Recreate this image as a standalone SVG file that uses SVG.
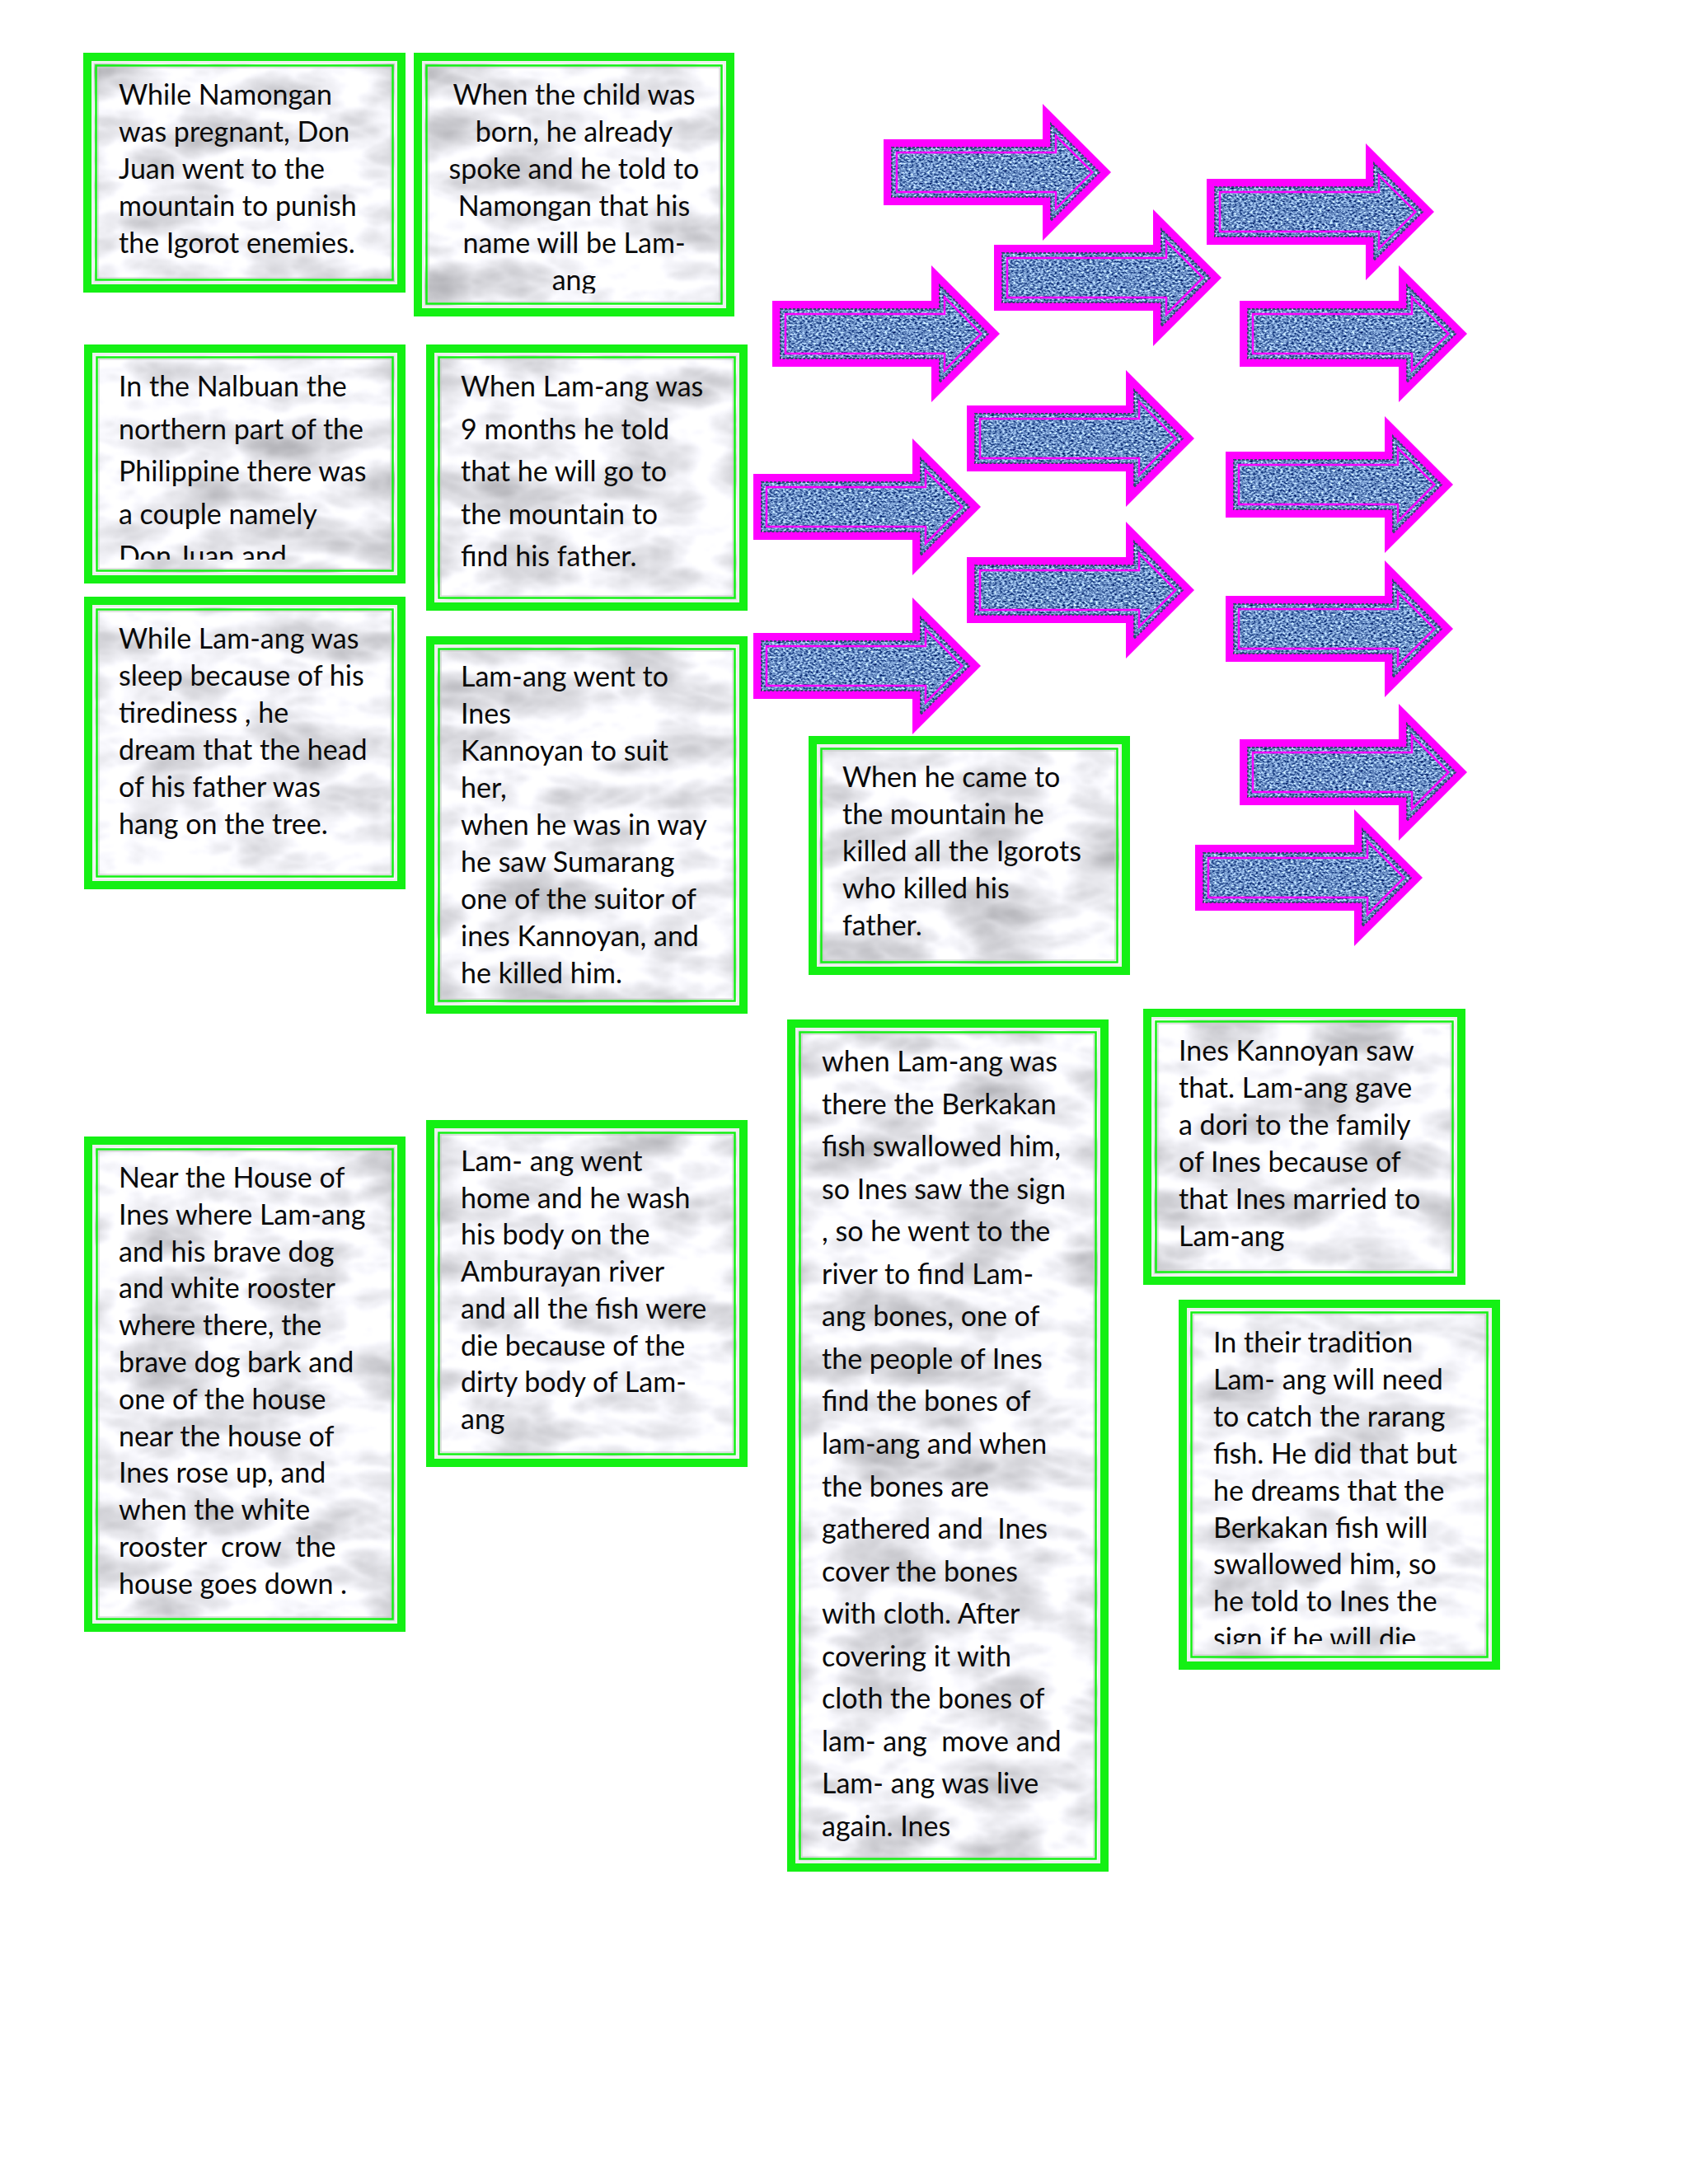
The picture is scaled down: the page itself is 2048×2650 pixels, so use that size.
<svg xmlns="http://www.w3.org/2000/svg" xmlns:xlink="http://www.w3.org/1999/xlink" width="2048" height="2650" viewBox="0 0 2048 2650">
<style>
.frame{fill:#14f014}
.inner{fill:#e4e4e6;filter:url(#marble)}
.l1{fill:none;stroke:#eef0ee;stroke-width:3}
.l2{fill:none;stroke:#14f014;stroke-width:2.5}
.l3{fill:none;stroke:#c4c8c4;stroke-width:1}
.t{font-family:Lato,'Liberation Sans',sans-serif;font-size:34px;fill:#0a0a0a;white-space:pre}
.c{text-anchor:middle}
</style>
<defs>
<filter id="marble" x="0" y="0" width="1" height="1" color-interpolation-filters="sRGB">
<feTurbulence type="turbulence" baseFrequency="0.007 0.016" numOctaves="4" seed="3" result="t"/>
<feColorMatrix in="t" type="matrix" values="-0.45 0 0 0 1.08 -0.45 0 0 0 1.08 -0.45 0 0 0 1.1 0 0 0 0 1"/>
<feGaussianBlur stdDeviation="1.5"/>
<feComposite operator="in" in2="SourceGraphic"/>
</filter>
<filter id="denim" x="0" y="0" width="1" height="1" color-interpolation-filters="sRGB">
<feTurbulence type="fractalNoise" baseFrequency="0.3 0.45" numOctaves="2" seed="7"/>
<feColorMatrix type="matrix" values="1.6 0 0 0 -0.38 1.6 0 0 0 -0.24 1.3 0 0 0 0.12 0 0 0 0 1"/>
<feComposite operator="in" in2="SourceGraphic"/>
</filter>
<g id="arrow">
<path d="M0,-40 H193 V-83 L276,0 L193,83 V40 H0 Z" fill="#ff00ff"/>
<path d="M10,-30 H203 V-58.9 L261.9,0 L203,58.9 V30 H10 Z" fill="#6a88c0" filter="url(#denim)"/>
<path d="M10,-30 H203 V-58.9 L261.9,0 L203,58.9 V30 H10 Z" fill="none" stroke="#33466f" stroke-width="2" stroke-dasharray="3 2"/>
<path d="M16,-24 H209 V-44.4 L253.4,0 L209,44.4 V24 H16 Z" fill="none" stroke="#ff00ff" stroke-width="2.5"/>
</g>
<clipPath id="clipB"><rect x="512" y="74" width="369" height="282"/></clipPath>
<clipPath id="clipC"><rect x="112" y="428" width="370" height="251"/></clipPath>
<clipPath id="clipJ"><rect x="1440" y="1587" width="370" height="408"/></clipPath>
</defs>
<rect width="2048" height="2650" fill="#ffffff"/>

<g id="connectors">
<use id="arrow1" xlink:href="#arrow" transform="translate(1072,209)"/>
<use id="arrow2" xlink:href="#arrow" transform="translate(1464,257)"/>
<use id="arrow3" xlink:href="#arrow" transform="translate(1206,337)"/>
<use id="arrow4" xlink:href="#arrow" transform="translate(937,405)"/>
<use id="arrow5" xlink:href="#arrow" transform="translate(1504,405)"/>
<use id="arrow6" xlink:href="#arrow" transform="translate(1173,532)"/>
<use id="arrow7" xlink:href="#arrow" transform="translate(1487,588)"/>
<use id="arrow8" xlink:href="#arrow" transform="translate(914,615)"/>
<use id="arrow9" xlink:href="#arrow" transform="translate(1173,716)"/>
<use id="arrow10" xlink:href="#arrow" transform="translate(1487,763)"/>
<use id="arrow11" xlink:href="#arrow" transform="translate(914,808)"/>
<use id="arrow12" xlink:href="#arrow" transform="translate(1504,937)"/>
<use id="arrow13" xlink:href="#arrow" transform="translate(1450,1065)"/>
</g>

<g id="boxA">
<rect class="frame" x="101" y="64" width="391" height="291"/>
<rect class="inner" x="111" y="74" width="371" height="271"/>
<rect class="l1" x="112.5" y="75.5" width="368" height="268"/>
<rect class="l2" x="116.5" y="79.5" width="360" height="260"/>
<rect class="l3" x="119" y="82" width="355" height="255"/>
<text class="t" x="144" y="127">While Namongan</text>
<text class="t" x="144" y="172">was pregnant, Don</text>
<text class="t" x="144" y="217">Juan went to the</text>
<text class="t" x="144" y="262">mountain to punish</text>
<text class="t" x="144" y="307">the Igorot enemies.</text>
</g>

<g id="boxB">
<rect class="frame" x="502" y="64" width="389" height="320"/>
<rect class="inner" x="512" y="74" width="369" height="300"/>
<rect class="l1" x="513.5" y="75.5" width="366" height="297"/>
<rect class="l2" x="517.5" y="79.5" width="358" height="289"/>
<rect class="l3" x="520" y="82" width="353" height="284"/>
<g clip-path="url(#clipB)">
<text class="t c" x="696.5" y="127">When the child was</text>
<text class="t c" x="696.5" y="172">born, he already</text>
<text class="t c" x="696.5" y="217">spoke and he told to</text>
<text class="t c" x="696.5" y="262">Namongan that his</text>
<text class="t c" x="696.5" y="307">name will be Lam-</text>
<text class="t c" x="696.5" y="352">ang</text>
</g>
</g>

<g id="boxC">
<rect class="frame" x="102" y="418" width="390" height="290"/>
<rect class="inner" x="112" y="428" width="370" height="270"/>
<rect class="l1" x="113.5" y="429.5" width="367" height="267"/>
<rect class="l2" x="117.5" y="433.5" width="359" height="259"/>
<rect class="l3" x="120" y="436" width="354" height="254"/>
<g clip-path="url(#clipC)">
<text class="t" x="144" y="481">In the Nalbuan the</text>
<text class="t" x="144" y="532.5">northern part of the</text>
<text class="t" x="144" y="584">Philippine there was</text>
<text class="t" x="144" y="635.5">a couple namely</text>
<text class="t" x="144" y="687">Don Juan and</text>
</g>
</g>

<g id="boxD">
<rect class="frame" x="517" y="418" width="390" height="323"/>
<rect class="inner" x="527" y="428" width="370" height="303"/>
<rect class="l1" x="528.5" y="429.5" width="367" height="300"/>
<rect class="l2" x="532.5" y="433.5" width="359" height="292"/>
<rect class="l3" x="535" y="436" width="354" height="287"/>
<text class="t" x="559" y="481">When Lam-ang was</text>
<text class="t" x="559" y="532.5">9 months he told</text>
<text class="t" x="559" y="584">that he will go to</text>
<text class="t" x="559" y="635.5">the mountain to</text>
<text class="t" x="559" y="687">find his father.</text>
</g>

<g id="boxE">
<rect class="frame" x="102" y="724" width="390" height="355"/>
<rect class="inner" x="112" y="734" width="370" height="335"/>
<rect class="l1" x="113.5" y="735.5" width="367" height="332"/>
<rect class="l2" x="117.5" y="739.5" width="359" height="324"/>
<rect class="l3" x="120" y="742" width="354" height="319"/>
<text class="t" x="144" y="787">While Lam-ang was</text>
<text class="t" x="144" y="832">sleep because of his</text>
<text class="t" x="144" y="877">tirediness , he</text>
<text class="t" x="144" y="922">dream that the head</text>
<text class="t" x="144" y="967">of his father was</text>
<text class="t" x="144" y="1012">hang on the tree.</text>
</g>

<g id="boxF">
<rect class="frame" x="517" y="772" width="390" height="458"/>
<rect class="inner" x="527" y="782" width="370" height="438"/>
<rect class="l1" x="528.5" y="783.5" width="367" height="435"/>
<rect class="l2" x="532.5" y="787.5" width="359" height="427"/>
<rect class="l3" x="535" y="790" width="354" height="422"/>
<text class="t" x="559" y="833">Lam-ang went to</text>
<text class="t" x="559" y="878">Ines</text>
<text class="t" x="559" y="923">Kannoyan to suit</text>
<text class="t" x="559" y="968">her,</text>
<text class="t" x="559" y="1013">when he was in way</text>
<text class="t" x="559" y="1058">he saw Sumarang</text>
<text class="t" x="559" y="1103">one of the suitor of</text>
<text class="t" x="559" y="1148">ines Kannoyan, and</text>
<text class="t" x="559" y="1193">he killed him.</text>
</g>

<g id="boxG">
<rect class="frame" x="981" y="893" width="390" height="290"/>
<rect class="inner" x="991" y="903" width="370" height="270"/>
<rect class="l1" x="992.5" y="904.5" width="367" height="267"/>
<rect class="l2" x="996.5" y="908.5" width="359" height="259"/>
<rect class="l3" x="999" y="911" width="354" height="254"/>
<text class="t" x="1022" y="955">When he came to</text>
<text class="t" x="1022" y="1000">the mountain he</text>
<text class="t" x="1022" y="1045">killed all the Igorots</text>
<text class="t" x="1022" y="1090">who killed his</text>
<text class="t" x="1022" y="1135">father.</text>
</g>

<g id="boxH">
<rect class="frame" x="955" y="1237" width="390" height="1034"/>
<rect class="inner" x="965" y="1247" width="370" height="1014"/>
<rect class="l1" x="966.5" y="1248.5" width="367" height="1011"/>
<rect class="l2" x="970.5" y="1252.5" width="359" height="1003"/>
<rect class="l3" x="973" y="1255" width="354" height="998"/>
<text class="t" x="997" y="1300">when Lam-ang was</text>
<text class="t" x="997" y="1351.6">there the Berkakan</text>
<text class="t" x="997" y="1403.1">fish swallowed him,</text>
<text class="t" x="997" y="1454.7">so Ines saw the sign</text>
<text class="t" x="997" y="1506.2">, so he went to the</text>
<text class="t" x="997" y="1557.8">river to find Lam-</text>
<text class="t" x="997" y="1609.3">ang bones, one of</text>
<text class="t" x="997" y="1660.9">the people of Ines</text>
<text class="t" x="997" y="1712.4">find the bones of</text>
<text class="t" x="997" y="1764">lam-ang and when</text>
<text class="t" x="997" y="1815.6">the bones are</text>
<text class="t" x="997" y="1867.1">gathered and  Ines</text>
<text class="t" x="997" y="1918.7">cover the bones</text>
<text class="t" x="997" y="1970.2">with cloth. After</text>
<text class="t" x="997" y="2021.8">covering it with</text>
<text class="t" x="997" y="2073.3">cloth the bones of</text>
<text class="t" x="997" y="2124.9">lam- ang  move and</text>
<text class="t" x="997" y="2176.4">Lam- ang was live</text>
<text class="t" x="997" y="2228">again. Ines</text>
</g>

<g id="boxI">
<rect class="frame" x="1387" y="1224" width="391" height="335"/>
<rect class="inner" x="1397" y="1234" width="371" height="315"/>
<rect class="l1" x="1398.5" y="1235.5" width="368" height="312"/>
<rect class="l2" x="1402.5" y="1239.5" width="360" height="304"/>
<rect class="l3" x="1405" y="1242" width="355" height="299"/>
<text class="t" x="1430" y="1287">Ines Kannoyan saw</text>
<text class="t" x="1430" y="1332">that. Lam-ang gave</text>
<text class="t" x="1430" y="1377">a dori to the family</text>
<text class="t" x="1430" y="1422">of Ines because of</text>
<text class="t" x="1430" y="1467">that Ines married to</text>
<text class="t" x="1430" y="1512">Lam-ang</text>
</g>

<g id="boxJ">
<rect class="frame" x="1430" y="1577" width="390" height="449"/>
<rect class="inner" x="1440" y="1587" width="370" height="429"/>
<rect class="l1" x="1441.5" y="1588.5" width="367" height="426"/>
<rect class="l2" x="1445.5" y="1592.5" width="359" height="418"/>
<rect class="l3" x="1448" y="1595" width="354" height="413"/>
<g clip-path="url(#clipJ)">
<text class="t" x="1472" y="1641">In their tradition</text>
<text class="t" x="1472" y="1685.9">Lam- ang will need</text>
<text class="t" x="1472" y="1730.8">to catch the rarang</text>
<text class="t" x="1472" y="1775.7">fish. He did that but</text>
<text class="t" x="1472" y="1820.6">he dreams that the</text>
<text class="t" x="1472" y="1865.5">Berkakan fish will</text>
<text class="t" x="1472" y="1910.4">swallowed him, so</text>
<text class="t" x="1472" y="1955.3">he told to Ines the</text>
<text class="t" x="1472" y="2000.2">sign if he will die.</text>
</g>
</g>

<g id="boxK">
<rect class="frame" x="102" y="1379" width="390" height="601"/>
<rect class="inner" x="112" y="1389" width="370" height="581"/>
<rect class="l1" x="113.5" y="1390.5" width="367" height="578"/>
<rect class="l2" x="117.5" y="1394.5" width="359" height="570"/>
<rect class="l3" x="120" y="1397" width="354" height="565"/>
<text class="t" x="144" y="1441">Near the House of</text>
<text class="t" x="144" y="1485.8">Ines where Lam-ang</text>
<text class="t" x="144" y="1530.6">and his brave dog</text>
<text class="t" x="144" y="1575.4">and white rooster</text>
<text class="t" x="144" y="1620.2">where there, the</text>
<text class="t" x="144" y="1665">brave dog bark and</text>
<text class="t" x="144" y="1709.8">one of the house</text>
<text class="t" x="144" y="1754.6">near the house of</text>
<text class="t" x="144" y="1799.4">Ines rose up, and</text>
<text class="t" x="144" y="1844.2">when the white</text>
<text class="t" x="144" y="1889">rooster  crow  the</text>
<text class="t" x="144" y="1933.8">house goes down .</text>
</g>

<g id="boxL">
<rect class="frame" x="517" y="1359" width="390" height="421"/>
<rect class="inner" x="527" y="1369" width="370" height="401"/>
<rect class="l1" x="528.5" y="1370.5" width="367" height="398"/>
<rect class="l2" x="532.5" y="1374.5" width="359" height="390"/>
<rect class="l3" x="535" y="1377" width="354" height="385"/>
<text class="t" x="559" y="1421">Lam- ang went</text>
<text class="t" x="559" y="1465.7">home and he wash</text>
<text class="t" x="559" y="1510.4">his body on the</text>
<text class="t" x="559" y="1555.1">Amburayan river</text>
<text class="t" x="559" y="1599.8">and all the fish were</text>
<text class="t" x="559" y="1644.5">die because of the</text>
<text class="t" x="559" y="1689.2">dirty body of Lam-</text>
<text class="t" x="559" y="1733.9">ang</text>
</g>
</svg>
